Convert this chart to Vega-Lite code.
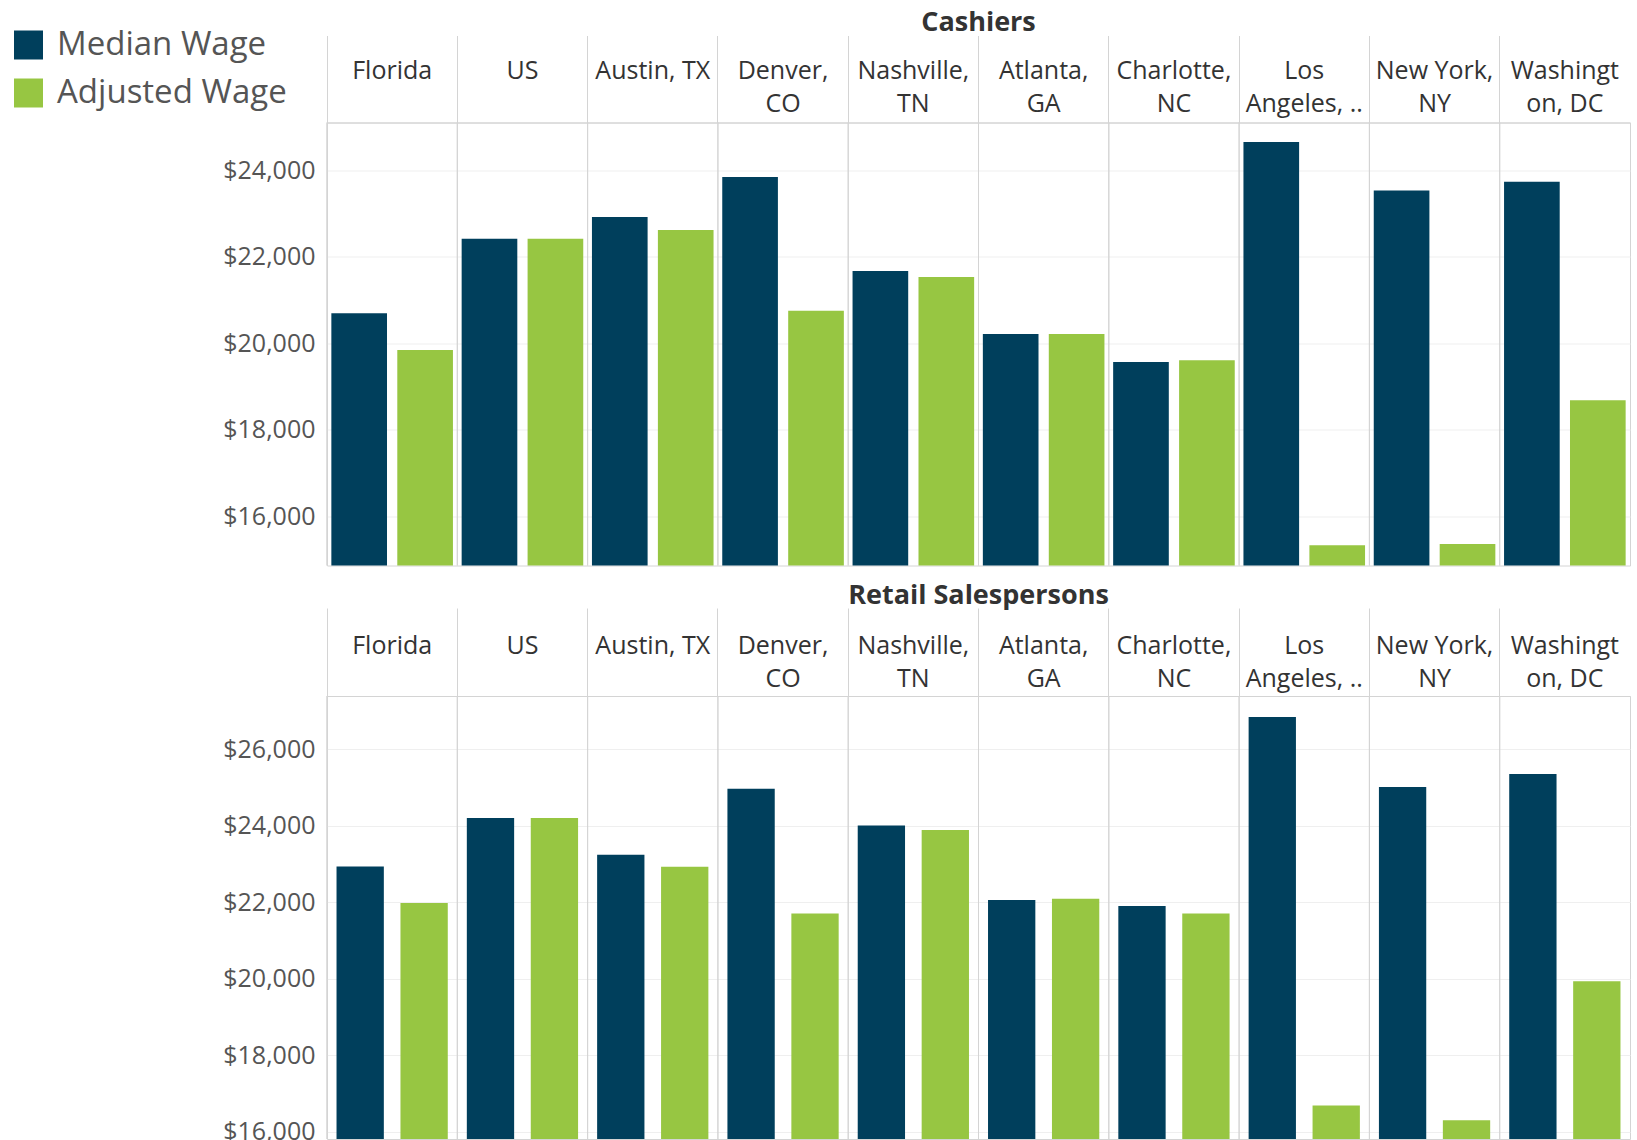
{
  "$schema": "https://vega.github.io/schema/vega-lite/v6.json",
  "background": "white",
  "padding": {"left": 12, "top": 8.5, "right": 4, "bottom": 0},
  "spacing": 14.5,
  "config": {
    "font": "Open Sans",
    "view": {"stroke": "#d4d4d4", "strokeWidth": 1}
  },
  "datasets": {
    "wages": [
      {"Occupation": "Cashiers", "City": "Florida", "Measure": "Median Wage", "Wage": 20694},
      {"Occupation": "Cashiers", "City": "Florida", "Measure": "Adjusted Wage", "Wage": 19847},
      {"Occupation": "Cashiers", "City": "US", "Measure": "Median Wage", "Wage": 22421},
      {"Occupation": "Cashiers", "City": "US", "Measure": "Adjusted Wage", "Wage": 22421},
      {"Occupation": "Cashiers", "City": "Austin, TX", "Measure": "Median Wage", "Wage": 22922},
      {"Occupation": "Cashiers", "City": "Austin, TX", "Measure": "Adjusted Wage", "Wage": 22621},
      {"Occupation": "Cashiers", "City": "Denver, CO", "Measure": "Median Wage", "Wage": 23847},
      {"Occupation": "Cashiers", "City": "Denver, CO", "Measure": "Adjusted Wage", "Wage": 20756},
      {"Occupation": "Cashiers", "City": "Nashville, TN", "Measure": "Median Wage", "Wage": 21674},
      {"Occupation": "Cashiers", "City": "Nashville, TN", "Measure": "Adjusted Wage", "Wage": 21535},
      {"Occupation": "Cashiers", "City": "Atlanta, GA", "Measure": "Median Wage", "Wage": 20217},
      {"Occupation": "Cashiers", "City": "Atlanta, GA", "Measure": "Adjusted Wage", "Wage": 20217},
      {"Occupation": "Cashiers", "City": "Charlotte, NC", "Measure": "Median Wage", "Wage": 19570},
      {"Occupation": "Cashiers", "City": "Charlotte, NC", "Measure": "Adjusted Wage", "Wage": 19607},
      {"Occupation": "Cashiers", "City": "Los Angeles, CA", "Measure": "Median Wage", "Wage": 24657},
      {"Occupation": "Cashiers", "City": "Los Angeles, CA", "Measure": "Adjusted Wage", "Wage": 15329},
      {"Occupation": "Cashiers", "City": "New York, NY", "Measure": "Median Wage", "Wage": 23538},
      {"Occupation": "Cashiers", "City": "New York, NY", "Measure": "Adjusted Wage", "Wage": 15360},
      {"Occupation": "Cashiers", "City": "Washington, DC", "Measure": "Median Wage", "Wage": 23739},
      {"Occupation": "Cashiers", "City": "Washington, DC", "Measure": "Adjusted Wage", "Wage": 18682},
      {"Occupation": "Retail Salespersons", "City": "Florida", "Measure": "Median Wage", "Wage": 22936},
      {"Occupation": "Retail Salespersons", "City": "Florida", "Measure": "Adjusted Wage", "Wage": 21979},
      {"Occupation": "Retail Salespersons", "City": "US", "Measure": "Median Wage", "Wage": 24201},
      {"Occupation": "Retail Salespersons", "City": "US", "Measure": "Adjusted Wage", "Wage": 24201},
      {"Occupation": "Retail Salespersons", "City": "Austin, TX", "Measure": "Median Wage", "Wage": 23242},
      {"Occupation": "Retail Salespersons", "City": "Austin, TX", "Measure": "Adjusted Wage", "Wage": 22928},
      {"Occupation": "Retail Salespersons", "City": "Denver, CO", "Measure": "Median Wage", "Wage": 24967},
      {"Occupation": "Retail Salespersons", "City": "Denver, CO", "Measure": "Adjusted Wage", "Wage": 21708},
      {"Occupation": "Retail Salespersons", "City": "Nashville, TN", "Measure": "Median Wage", "Wage": 24009},
      {"Occupation": "Retail Salespersons", "City": "Nashville, TN", "Measure": "Adjusted Wage", "Wage": 23887},
      {"Occupation": "Retail Salespersons", "City": "Atlanta, GA", "Measure": "Median Wage", "Wage": 22057},
      {"Occupation": "Retail Salespersons", "City": "Atlanta, GA", "Measure": "Adjusted Wage", "Wage": 22092},
      {"Occupation": "Retail Salespersons", "City": "Charlotte, NC", "Measure": "Median Wage", "Wage": 21900},
      {"Occupation": "Retail Salespersons", "City": "Charlotte, NC", "Measure": "Adjusted Wage", "Wage": 21708},
      {"Occupation": "Retail Salespersons", "City": "Los Angeles, CA", "Measure": "Median Wage", "Wage": 26842},
      {"Occupation": "Retail Salespersons", "City": "Los Angeles, CA", "Measure": "Adjusted Wage", "Wage": 16688},
      {"Occupation": "Retail Salespersons", "City": "New York, NY", "Measure": "Median Wage", "Wage": 25012},
      {"Occupation": "Retail Salespersons", "City": "New York, NY", "Measure": "Adjusted Wage", "Wage": 16305},
      {"Occupation": "Retail Salespersons", "City": "Washington, DC", "Measure": "Median Wage", "Wage": 25351},
      {"Occupation": "Retail Salespersons", "City": "Washington, DC", "Measure": "Adjusted Wage", "Wage": 19939}
    ]
  },
  "vconcat": [
    {
      "title": {"text": "Cashiers", "frame": "group", "anchor": "middle", "fontSize": 27, "fontWeight": "bold", "color": "#333333", "offset": -2},
      "width": 1303,
      "height": 443,
      "data": {"name": "wages"},
      "transform": [{"filter": "datum.Occupation == 'Cashiers'"}],
      "layer": [
        {
          "mark": {"type": "rule", "color": "#d4d4d4", "strokeWidth": 1},
          "encoding": {
            "x": {
              "field": "City", "type": "nominal", "title": null, "bandPosition": 0,
              "sort": ["Florida", "US", "Austin, TX", "Denver, CO", "Nashville, TN", "Atlanta, GA", "Charlotte, NC", "Los Angeles, CA", "New York, NY", "Washington, DC"],
              "scale": {"paddingInner": 0, "paddingOuter": 0},
              "axis": {"orient": "top", "labels": false, "domain": false, "grid": false, "ticks": true, "tickSize": 87, "tickColor": "#d4d4d4", "tickWidth": 1, "bandPosition": 0}
            }
          }
        },
        {
          "mark": {"type": "bar"},
          "encoding": {
            "x": {
              "field": "City", "type": "nominal", "title": null,
              "sort": ["Florida", "US", "Austin, TX", "Denver, CO", "Nashville, TN", "Atlanta, GA", "Charlotte, NC", "Los Angeles, CA", "New York, NY", "Washington, DC"],
              "scale": {"paddingInner": 0, "paddingOuter": 0},
              "axis": {
                "orient": "top", "ticks": false, "grid": false, "domain": true, "domainColor": "#d4d4d4",
                "labelAngle": 0, "labelBaseline": "middle", "labelPadding": 52,
                "labelFontSize": 25, "labelColor": "#333333", "labelLineHeight": 33,
                "labelExpr": "datum.value == 'Los Angeles, CA' ? ['Los', 'Angeles, ..'] : datum.value == 'Washington, DC' ? ['Washingt', 'on, DC'] : (datum.value == 'Austin, TX' || indexof(datum.value, ',') < 0) ? datum.value : [slice(datum.value, 0, indexof(datum.value, ',') + 1), slice(datum.value, indexof(datum.value, ',') + 2)]"
              }
            },
            "xOffset": {"field": "Measure", "type": "nominal", "sort": ["Median Wage", "Adjusted Wage"], "scale": {"paddingInner": 0.156, "paddingOuter": 0.066}},
            "y": {
              "field": "Wage", "type": "quantitative", "title": null,
              "scale": {"domain": [14860, 25110], "nice": false, "zero": false},
              "axis": {"values": [16000, 18000, 20000, 22000, 24000], "format": "$,.0f", "ticks": false, "domain": false, "gridColor": "#efefef", "labelFontSize": 25, "labelColor": "#555555", "labelPadding": 12}
            },
            "y2": {"datum": 14860},
            "color": {
              "field": "Measure", "type": "nominal",
              "scale": {"domain": ["Median Wage", "Adjusted Wage"], "range": ["#003f5c", "#97c642"]},
              "legend": {"orient": "none", "legendX": -315, "legendY": -94, "title": null, "symbolType": "square", "symbolSize": 841, "symbolStrokeWidth": 0, "labelFontSize": 33, "labelColor": "#555555", "labelOffset": 12, "labelLimit": 400, "rowPadding": 14, "padding": 0}
            }
          }
        }
      ],
      "resolve": {"axis": {"x": "independent"}}
    },
    {
      "title": {"text": "Retail Salespersons", "frame": "group", "anchor": "middle", "fontSize": 27, "fontWeight": "bold", "color": "#333333", "offset": -2},
      "width": 1303,
      "height": 443,
      "data": {"name": "wages"},
      "transform": [{"filter": "datum.Occupation == 'Retail Salespersons'"}],
      "layer": [
        {
          "mark": {"type": "rule", "color": "#d4d4d4", "strokeWidth": 1},
          "encoding": {
            "x": {
              "field": "City", "type": "nominal", "title": null, "bandPosition": 0,
              "sort": ["Florida", "US", "Austin, TX", "Denver, CO", "Nashville, TN", "Atlanta, GA", "Charlotte, NC", "Los Angeles, CA", "New York, NY", "Washington, DC"],
              "scale": {"paddingInner": 0, "paddingOuter": 0},
              "axis": {"orient": "top", "labels": false, "domain": false, "grid": false, "ticks": true, "tickSize": 88, "tickColor": "#d4d4d4", "tickWidth": 1, "bandPosition": 0}
            }
          }
        },
        {
          "mark": {"type": "bar"},
          "encoding": {
            "x": {
              "field": "City", "type": "nominal", "title": null,
              "sort": ["Florida", "US", "Austin, TX", "Denver, CO", "Nashville, TN", "Atlanta, GA", "Charlotte, NC", "Los Angeles, CA", "New York, NY", "Washington, DC"],
              "scale": {"paddingInner": 0, "paddingOuter": 0},
              "axis": {
                "orient": "top", "ticks": false, "grid": false, "domain": true, "domainColor": "#d4d4d4",
                "labelAngle": 0, "labelBaseline": "middle", "labelPadding": 51,
                "labelFontSize": 25, "labelColor": "#333333", "labelLineHeight": 33,
                "labelExpr": "datum.value == 'Los Angeles, CA' ? ['Los', 'Angeles, ..'] : datum.value == 'Washington, DC' ? ['Washingt', 'on, DC'] : (datum.value == 'Austin, TX' || indexof(datum.value, ',') < 0) ? datum.value : [slice(datum.value, 0, indexof(datum.value, ',') + 1), slice(datum.value, indexof(datum.value, ',') + 2)]"
              }
            },
            "xOffset": {"field": "Measure", "type": "nominal", "sort": ["Median Wage", "Adjusted Wage"], "scale": {"paddingInner": 0.26, "paddingOuter": 0.149}},
            "y": {
              "field": "Wage", "type": "quantitative", "title": null,
              "scale": {"domain": [15812, 27393], "nice": false, "zero": false},
              "axis": {"values": [16000, 18000, 20000, 22000, 24000, 26000], "format": "$,.0f", "ticks": false, "domain": false, "gridColor": "#efefef", "labelFontSize": 25, "labelColor": "#555555", "labelPadding": 12}
            },
            "y2": {"datum": 15812},
            "color": {
              "field": "Measure", "type": "nominal",
              "scale": {"domain": ["Median Wage", "Adjusted Wage"], "range": ["#003f5c", "#97c642"]},
              "legend": {"orient": "none", "legendX": -315, "legendY": -94, "title": null, "symbolType": "square", "symbolSize": 841, "symbolStrokeWidth": 0, "labelFontSize": 33, "labelColor": "#555555", "labelOffset": 12, "labelLimit": 400, "rowPadding": 14, "padding": 0}
            }
          }
        }
      ],
      "resolve": {"axis": {"x": "independent"}}
    }
  ],
  "resolve": {"scale": {"y": "independent", "x": "independent", "xOffset": "independent"}}
}
